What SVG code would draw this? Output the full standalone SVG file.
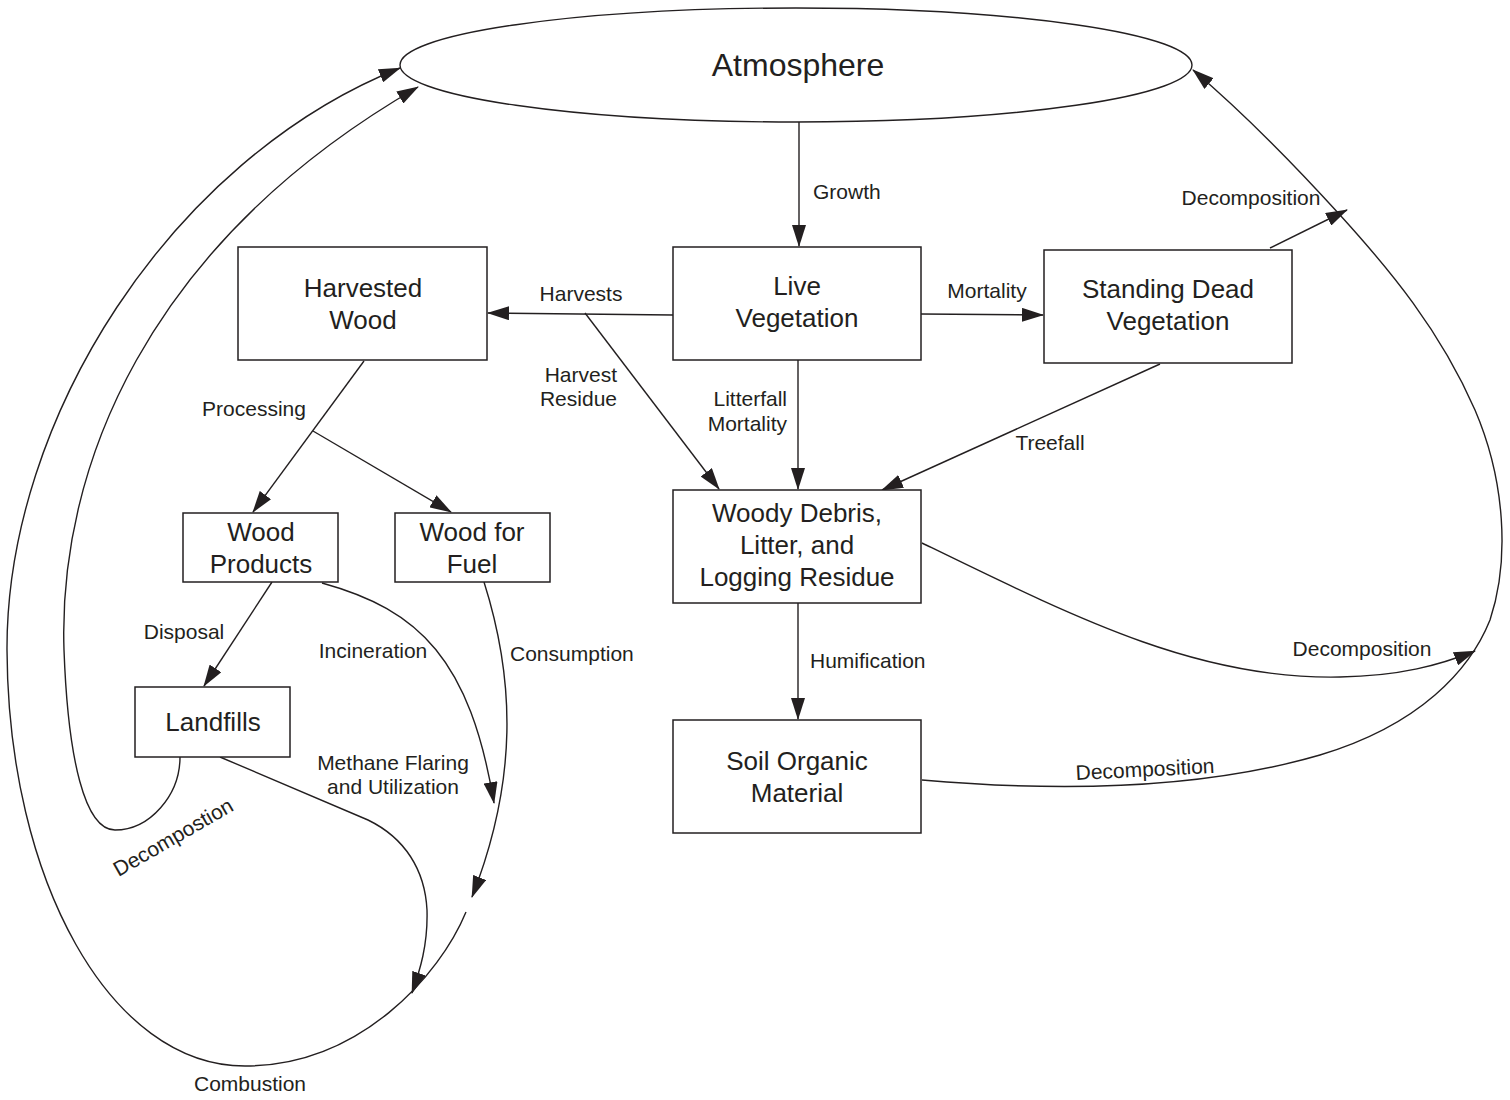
<svg xmlns="http://www.w3.org/2000/svg" width="1510" height="1100" viewBox="0 0 1510 1100">
<style>
.box{fill:#fff;stroke:#231f20;stroke-width:1.5}
.nt{font-family:"Liberation Sans",Arial,sans-serif;font-size:26px;fill:#231f20;text-anchor:middle}
.lb{font-family:"Liberation Sans",Arial,sans-serif;font-size:21px;fill:#231f20;text-anchor:middle}
.ln{fill:none;stroke:#231f20;stroke-width:1.4}
.ar{marker-end:url(#ah)}
</style>
<defs>
<marker id="ah" viewBox="0 0 22 14" refX="21" refY="7" markerWidth="22" markerHeight="14" markerUnits="userSpaceOnUse" orient="auto">
<path d="M0,0 L22,7 L0,14 z" fill="#231f20"/>
</marker>
</defs>
<rect width="1510" height="1100" fill="#fff"/>

<g id="connectors">
<path class="ln ar" d="M799,122 L799,246"/>
<path class="ln ar" d="M673,315 L488,313"/>
<path class="ln ar" d="M585,313 L719,489"/>
<path class="ln ar" d="M798,360 L798,489"/>
<path class="ln ar" d="M921,314 L1043,315"/>
<path class="ln ar" d="M1160,364 L882,490"/>
<path class="ln ar" d="M1270,248 L1347,210"/>
<path class="ln ar" d="M364,361 L253,512"/>
<path class="ln ar" d="M313,431 L451,512"/>
<path class="ln ar" d="M272,582 L204,686"/>
<path class="ln ar" d="M798,603 L798,719"/>
<path class="ln ar" d="M322,583 C420,610 470,660 494,803"/>
<path class="ln ar" d="M484,582 C515,680 518,780 472,897"/>
<path class="ln ar" d="M466,912 C440,975 360,1066 245,1066 C110,1066 8,880 7,650 C6,420 170,160 400,68"/>
<path class="ln ar" d="M220,757 L368,820 C405,838 425,870 427,910 C428,945 420,970 412,993"/>
<path class="ln ar" d="M180,757 C180,795 150,830 115,830 C85,830 68,760 64,650 C58,470 145,245 418,87"/>
<path class="ln ar" d="M922,780 C1060,792 1200,790 1320,755 C1420,725 1470,670 1490,620 C1510,560 1505,480 1475,410 C1440,330 1390,270 1340,215 C1290,160 1240,110 1193,70"/>
<path class="ln ar" d="M922,543 C1080,620 1200,680 1340,677 C1400,676 1440,665 1475,651"/>
</g>

<g id="labels">
<text class="lb" x="813" y="198.5" style="text-anchor:start">Growth</text>
<text class="lb" x="581" y="300.5">Harvests</text>
<text class="lb" x="987" y="297.5">Mortality</text>
<text class="lb" x="1251" y="204.5">Decomposition</text>
<text class="lb" x="617" y="381.5" style="text-anchor:end">Harvest</text>
<text class="lb" x="617" y="405.5" style="text-anchor:end">Residue</text>
<text class="lb" x="787" y="405.5" style="text-anchor:end">Litterfall</text>
<text class="lb" x="787" y="430.5" style="text-anchor:end">Mortality</text>
<text class="lb" x="1050" y="449.5">Treefall</text>
<text class="lb" x="254" y="415.5">Processing</text>
<text class="lb" x="184" y="638.5">Disposal</text>
<text class="lb" x="373" y="657.5">Incineration</text>
<text class="lb" x="510" y="660.5" style="text-anchor:start">Consumption</text>
<text class="lb" x="810" y="667.5" style="text-anchor:start">Humification</text>
<text class="lb" x="1362" y="655.5">Decomposition</text>
<text class="lb" x="393" y="769.5">Methane Flaring</text>
<text class="lb" x="393" y="793.5">and Utilization</text>
<text class="lb" x="1145" y="776.5" transform="rotate(-3 1145 769)">Decomposition</text>
<text class="lb" x="173" y="844.5" transform="rotate(-30 173 837)">Decompostion</text>
<text class="lb" x="250" y="1090.5">Combustion</text>
</g>

<g id="atmosphere">
<ellipse cx="796" cy="65" rx="396" ry="57" fill="#fff" stroke="#231f20" stroke-width="1.4"/>
<text class="nt" x="798" y="76" style="font-size:32px">Atmosphere</text>
</g>
<g id="harvested-wood">
<rect class="box" x="238" y="247" width="249" height="113"/>
<text class="nt" x="363" y="297">Harvested</text>
<text class="nt" x="363" y="329">Wood</text>
</g>
<g id="live-vegetation">
<rect class="box" x="673" y="247" width="248" height="113"/>
<text class="nt" x="797" y="295">Live</text>
<text class="nt" x="797" y="327">Vegetation</text>
</g>
<g id="standing-dead">
<rect class="box" x="1044" y="250" width="248" height="113"/>
<text class="nt" x="1168" y="298">Standing Dead</text>
<text class="nt" x="1168" y="330">Vegetation</text>
</g>
<g id="wood-products">
<rect class="box" x="183" y="513" width="155" height="69"/>
<text class="nt" x="261" y="541">Wood</text>
<text class="nt" x="261" y="573">Products</text>
</g>
<g id="wood-for-fuel">
<rect class="box" x="395" y="513" width="155" height="69"/>
<text class="nt" x="472" y="541">Wood for</text>
<text class="nt" x="472" y="573">Fuel</text>
</g>
<g id="woody-debris">
<rect class="box" x="673" y="490" width="248" height="113"/>
<text class="nt" x="797" y="522">Woody Debris,</text>
<text class="nt" x="797" y="554">Litter, and</text>
<text class="nt" x="797" y="586">Logging Residue</text>
</g>
<g id="landfills">
<rect class="box" x="135" y="687" width="155" height="70"/>
<text class="nt" x="213" y="731">Landfills</text>
</g>
<g id="soil-organic">
<rect class="box" x="673" y="720" width="248" height="113"/>
<text class="nt" x="797" y="770">Soil Organic</text>
<text class="nt" x="797" y="802">Material</text>
</g>
</svg>
